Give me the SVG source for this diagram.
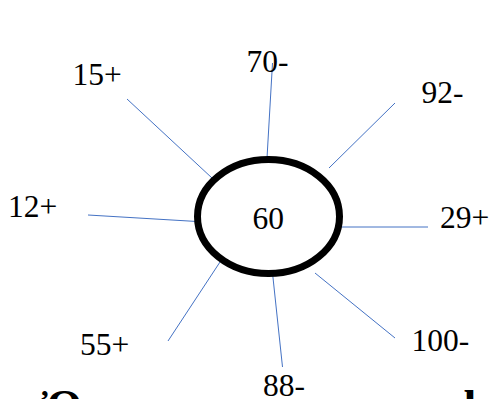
<svg xmlns="http://www.w3.org/2000/svg" width="490" height="399" viewBox="0 0 490 399">
<style>
.lbl{font-family:'Liberation Serif','Times New Roman',serif;font-size:31.5px;fill:#000}
.big{font-family:'Liberation Serif','Times New Roman',serif;font-size:46px;font-weight:bold;fill:#000}
.c{stroke:#4472C4;stroke-width:1;fill:none}
</style>
<rect width="490" height="399" fill="#fff"/>
<g id="connectors">
<line class="c" x1="272.5" y1="63" x2="267" y2="158"/>
<line class="c" x1="127" y1="99" x2="212" y2="178"/>
<line class="c" x1="88" y1="215" x2="197" y2="221.5"/>
<line class="c" x1="395" y1="103" x2="329" y2="168"/>
<line class="c" x1="339" y1="227" x2="428" y2="227"/>
<line class="c" x1="220" y1="262" x2="168" y2="341"/>
<line class="c" x1="272.5" y1="273" x2="282.5" y2="367"/>
<line class="c" x1="315" y1="273" x2="395" y2="338"/>
</g>
<g id="center">
<ellipse cx="268.5" cy="216.5" rx="71" ry="57" fill="none" stroke="#000" stroke-width="7"/>
<text class="lbl" x="252.5" y="228.5">60</text>
</g>
<g id="n70"><text class="lbl" x="246.5" y="71.5">70-</text></g>
<g id="n15"><text class="lbl" x="72.5" y="85">15+</text></g>
<g id="n92"><text class="lbl" x="421.5" y="103">92-</text></g>
<g id="n12"><text class="lbl" x="8" y="216.5">12+</text></g>
<g id="n29"><text class="lbl" x="440" y="228">29+</text></g>
<g id="n55"><text class="lbl" x="80" y="355">55+</text></g>
<g id="n100"><text class="lbl" x="411.5" y="350.5">100-</text></g>
<g id="n88"><text class="lbl" x="263" y="395.5">88-</text></g>
<g id="caption">
<text class="big" x="42" y="422">Ὀνομα</text>
<text class="big" x="464" y="422">b</text>
</g>
</svg>
